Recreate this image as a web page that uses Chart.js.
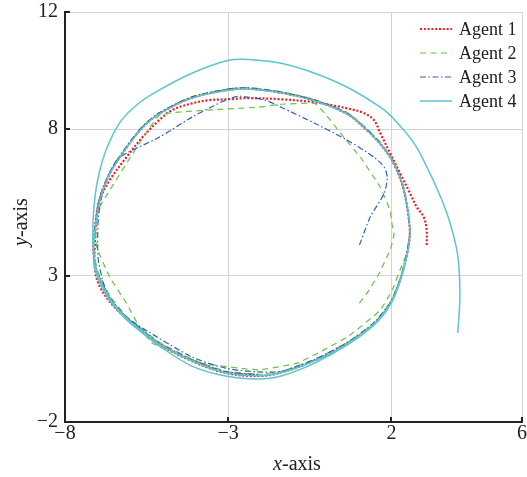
<!DOCTYPE html>
<html><head><meta charset="utf-8">
<script src="https://cdn.jsdelivr.net/npm/chart.js@4.4.1/dist/chart.umd.min.js"></script>
<style>html,body{margin:0;padding:0;background:#fff;overflow:hidden}canvas{display:block}</style>
</head><body>
<canvas id="c" width="527" height="477"></canvas>
<script>
const seriesLabels = ['Agent 1', 'Agent 2', 'Agent 3', 'Agent 4'];
const xTicks = [-8, -3, 2, 6];
const xTickLabels = ['\u22128', '\u22123', '2', '6'];
const yTicks = [-2, 3, 8, 12];
const yTickLabels = ['\u22122', '3', '8', '12'];

const agent1 = [
  [3.08,4.04],[3.08,4.55],[2.99,5.00],[2.78,5.33],[2.57,5.81],[2.26,6.50],[1.96,7.18],[1.66,7.86],
  [1.47,8.30],[1.17,8.54],[0.65,8.71],[0.14,8.82],[-0.35,8.92],[-1.38,9.02],[-2.38,9.06],[-2.99,9.02],
  [-3.60,8.99],[-4.11,8.88],[-4.72,8.65],[-5.12,8.30],[-5.63,7.72],[-6.12,7.04],[-6.63,6.26],[-6.94,5.58],
  [-7.03,5.00],[-7.08,4.21],[-7.08,3.19],[-6.90,2.55],[-6.45,1.88],[-5.66,1.10],[-5.13,0.66],[-4.13,0.09],
  [-3.09,-0.32],[-2.08,-0.43],
  [-1.38,-0.31],[-0.35,0.10],[0.65,0.68],[1.47,1.36],[1.96,2.04],[2.26,2.83],[2.48,3.75],[2.56,4.55],
  [2.38,5.90],[2.07,6.82],[1.65,7.50],[1.16,8.05],[0.64,8.52],[-0.35,8.97],[-1.38,9.24],[-2.38,9.38],
  [-2.99,9.34],[-4.11,9.07],[-5.12,8.52],[-5.63,8.05],[-6.12,7.36],[-6.63,6.48],[-6.95,5.56],[-7.10,4.44],
  [-7.13,3.86],[-7.04,3.18],[-6.64,2.26],[-6.13,1.57],[-5.64,1.13],[-5.13,0.69],[-4.12,0.11],[-3.09,-0.30],
  [-2.10,-0.40]
];
const agent2 = [
  [1.02,2.06],[1.32,2.51],[1.63,3.09],[1.96,3.87],[2.08,4.41],[2.02,4.75],[1.96,5.23],[1.66,6.01],
  [1.05,7.04],[0.44,7.86],[-0.04,8.54],[-0.35,8.88],[-1.38,8.85],[-2.08,8.75],[-3.60,8.65],[-5.12,8.47],
  [-7.00,5.23],[-7.06,4.70],[-7.03,3.97],[-6.63,2.95],[-6.12,2.06],[-5.72,1.24],[-5.33,0.69],[-3.81,0.01],
  [-2.08,-0.22],[-0.86,0.02],[0.65,0.90],[1.66,1.82],[2.02,2.50],[2.32,3.35],
  [2.49,3.80],[2.58,4.57],[2.40,5.94],[2.09,6.86],[1.67,7.54],[1.18,8.09],[0.66,8.56],[-0.34,9.01],
  [-1.37,9.28],[-2.37,9.42],[-2.98,9.38],[-4.10,9.11],[-5.11,8.56],[-5.62,8.09],[-6.11,7.40],[-6.62,6.52],
  [-6.93,5.60],[-7.08,4.47],[-7.11,3.89],[-7.02,3.21],[-6.62,2.29],[-6.11,1.60],[-5.62,1.16],[-5.11,0.72],
  [-4.10,0.14],[-3.07,-0.27],[-2.07,-0.37],[-1.37,-0.27],[-0.34,0.14],[0.66,0.72],[1.48,1.40],[1.97,2.08],
  [2.27,2.87],[2.49,3.79]
];
const agent3 = [
  [1.02,4.04],[1.35,5.00],[1.78,5.81],[1.87,6.36],[1.78,6.70],[1.47,7.04],[0.65,7.62],[-0.35,8.20],
  [-1.38,8.75],[-1.87,8.99],[-2.38,9.09],[-2.69,9.12],[-3.08,8.99],[-4.11,8.41],[-5.12,7.72],[-6.12,7.18],
  [-6.42,6.94],[-6.79,6.08],[-6.97,5.06],[-7.00,4.04],[-6.97,3.46],[-6.70,2.35],[-6.14,1.60],[-5.63,1.21],
  [-4.11,0.22],[-3.08,-0.16],[-2.08,-0.29],
  [-1.38,-0.27],[-0.35,0.14],[0.65,0.72],[1.47,1.40],[1.96,2.08],[2.26,2.87],[2.47,3.79],[2.56,4.57],
  [2.38,5.94],[2.07,6.86],[1.65,7.54],[1.16,8.08],[0.64,8.55],[-0.36,9.00],[-1.39,9.27],[-2.39,9.41],
  [-3.00,9.37],[-4.12,9.10],[-5.13,8.55],[-5.64,8.08],[-6.13,7.39],[-6.64,6.51],[-6.95,5.59],[-7.10,4.46],
  [-7.13,3.88],[-7.04,3.20],[-6.64,2.28],[-6.13,1.59],[-5.64,1.15],[-5.13,0.71],[-4.12,0.13],[-3.09,-0.28],
  [-2.09,-0.38]
];
const agent4 = [
  [4.03,1.04],[4.09,1.99],[4.09,2.84],[4.03,3.70],[3.90,4.38],[3.72,5.06],[3.48,5.75],[3.18,6.49],
  [2.69,7.52],[2.02,8.41],[1.66,8.75],[0.65,9.43],[-0.35,9.91],[-1.38,10.25],[-2.38,10.38],[-2.99,10.35],
  [-4.11,9.91],[-5.12,9.33],[-5.78,8.85],[-6.27,8.30],[-6.60,7.66],[-6.85,6.94],[-7.03,6.08],[-7.12,5.23],
  [-7.15,4.38],[-7.12,3.70],[-7.06,3.12],
  [-6.69,2.23],[-6.14,1.52],[-5.63,1.04],[-5.12,0.60],[-4.11,-0.09],[-3.08,-0.43],[-2.08,-0.53],[-1.38,-0.43],
  [-0.35,0.01],[0.65,0.63],[1.47,1.31],[1.96,1.99],[2.26,2.78],[2.48,3.70],
  [2.57,4.52],[2.39,5.89],[2.08,6.81],[1.66,7.49],[1.17,8.04],[0.65,8.51],[-0.35,8.96],[-1.38,9.23],
  [-2.38,9.37],[-2.99,9.33],[-4.11,9.06],[-5.12,8.51],[-5.63,8.04],[-6.12,7.35],[-6.63,6.47],[-6.94,5.55],
  [-7.09,4.42],[-7.12,3.84],[-7.03,3.16],[-6.63,2.24],[-6.12,1.55],[-5.63,1.11],[-5.12,0.67],[-4.11,0.09],
  [-3.08,-0.32],[-2.08,-0.42],[-1.38,-0.32],[-0.35,0.09],[0.65,0.67],[1.47,1.35],[1.96,2.03],[2.26,2.82],
  [2.48,3.74]
];

const toXY = arr => arr.map(p => ({x: p[0], y: p[1]}));
const FONT = "'Liberation Serif', 'Times New Roman', serif";

const datasets = [
  {label: seriesLabels[0], data: toXY(agent1), borderColor: '#ee1c25', borderWidth: 2.2, borderDash: [2, 1.8], tension: 0.35, order: 3},
  {label: seriesLabels[1], data: toXY(agent2), borderColor: '#6cbf45', borderWidth: 1.2, borderDash: [6, 4.5], tension: 0.1, order: 2},
  {label: seriesLabels[2], data: toXY(agent3), borderColor: '#2f5fb8', borderWidth: 1.2, borderDash: [6, 2.5, 1.5, 2.5], tension: 0.25, order: 1},
  {label: seriesLabels[3], data: toXY(agent4), borderColor: '#5cc5cf', borderWidth: 1.5, borderDash: [], tension: 0.35, order: 0}
].map(d => Object.assign(d, {showLine: true, pointRadius: 0, fill: false}));

const innerTicks = {
  id: 'innerTicks',
  beforeDatasetsDraw(chart) {
    const {ctx, chartArea: a, scales: {x, y}} = chart;
    ctx.save();
    ctx.strokeStyle = '#222';
    ctx.lineWidth = 2;
    ctx.beginPath();
    xTicks.forEach(v => { const px = Math.round(x.getPixelForValue(v)); ctx.moveTo(px, a.bottom); ctx.lineTo(px, a.bottom - 5); });
    yTicks.forEach(v => { const py = Math.round(y.getPixelForValue(v)); ctx.moveTo(a.left, py); ctx.lineTo(a.left + 5, py); });
    ctx.stroke();
    ctx.restore();
  }
};

const legendAndTitles = {
  id: 'legendAndTitles',
  afterDraw(chart) {
    const {ctx} = chart;
    ctx.save();
    const rows = [29, 53, 77, 101];
    chart.data.datasets.forEach((d, i) => {
      const yy = rows[i];
      ctx.beginPath();
      ctx.strokeStyle = d.borderColor;
      ctx.lineWidth = d.borderWidth;
      ctx.setLineDash(d.borderDash);
      ctx.moveTo(420, yy);
      ctx.lineTo(452, yy);
      ctx.stroke();
      ctx.setLineDash([]);
      ctx.fillStyle = '#222';
      ctx.font = '18px ' + FONT;
      ctx.textBaseline = 'middle';
      ctx.textAlign = 'left';
      ctx.fillText(d.label, 459, yy + 1);
    });
    const drawTitle = (letter, cx, by) => {
      ctx.font = 'italic 20px ' + FONT;
      const w1 = ctx.measureText(letter).width;
      ctx.font = '20px ' + FONT;
      const w2 = ctx.measureText('-axis').width;
      const start = cx - (w1 + w2) / 2;
      ctx.textBaseline = 'alphabetic';
      ctx.textAlign = 'left';
      ctx.font = 'italic 20px ' + FONT;
      ctx.fillText(letter, start, by);
      ctx.font = '20px ' + FONT;
      ctx.fillText('-axis', start + w1, by);
    };
    ctx.fillStyle = '#222';
    drawTitle('x', 297, 470);
    ctx.translate(27, 222);
    ctx.rotate(-Math.PI / 2);
    drawTitle('y', 0, 0);
    ctx.restore();
  }
};

new Chart(document.getElementById('c'), {
  type: 'scatter',
  data: {datasets},
  plugins: [innerTicks, legendAndTitles],
  options: {
    responsive: false,
    animation: false,
    devicePixelRatio: 1,
    layout: {padding: {top: 12, right: 1, left: 0, bottom: 0}, autoPadding: false},
    plugins: {legend: {display: false}, tooltip: {enabled: false}},
    scales: {
      x: {
        type: 'linear', min: -8, max: 6, position: 'bottom',
        afterBuildTicks: s => { s.ticks = xTicks.map(v => ({value: v})); },
        afterFit: s => { s.height = 55; },
        ticks: {autoSkip: false, maxRotation: 0, minRotation: 0, padding: 0, color: '#222',
          font: {family: FONT, size: 20}, callback: (v, i) => xTickLabels[i]},
        grid: {color: '#d4d4d4', lineWidth: 1, drawTicks: false},
        border: {display: true, color: '#222', width: 2}
      },
      y: {
        type: 'linear', min: -2, max: 12, position: 'left',
        afterBuildTicks: s => { s.ticks = yTicks.map(v => ({value: v})); },
        afterFit: s => { s.width = 65; },
        ticks: {autoSkip: false, padding: 0, color: '#222',
          font: {family: FONT, size: 20}, callback: (v, i) => yTickLabels[i]},
        grid: {color: '#d4d4d4', lineWidth: 1, drawTicks: true, tickLength: 7, tickColor: 'rgba(0,0,0,0)'},
        border: {display: true, color: '#222', width: 2}
      }
    }
  }
});
</script>
</body></html>
